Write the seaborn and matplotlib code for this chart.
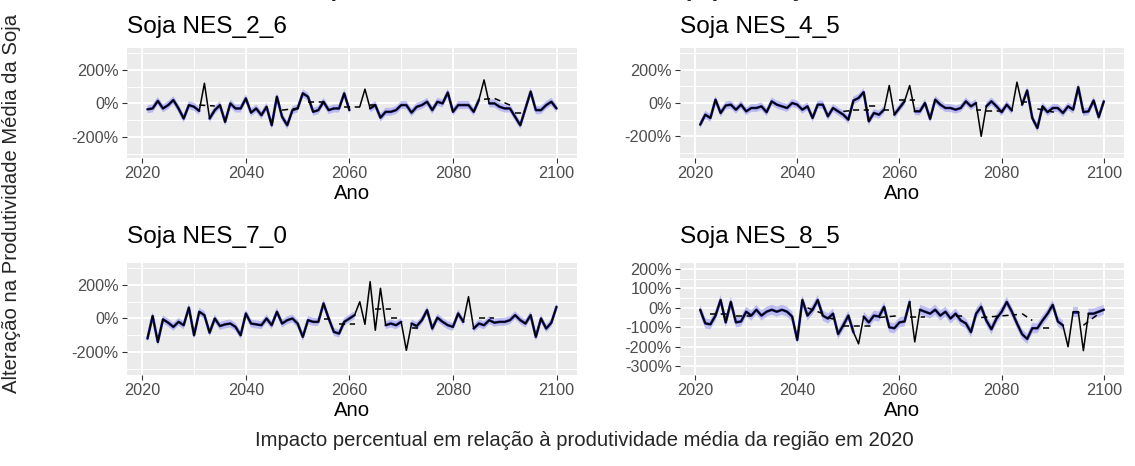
import numpy as np
import pandas as pd
import matplotlib
matplotlib.use("Agg")
import matplotlib.pyplot as plt
import seaborn as sns
from matplotlib.ticker import FuncFormatter, FixedLocator

nan = float("nan")
years = list(range(2021, 2101))

titles = ["Soja NES_2_6", "Soja NES_4_5", "Soja NES_7_0", "Soja NES_8_5"]

obs_2_6 = [-35, -30, 15, -30, -10, 20, -30, -90, -10, -20,
           -45, 120, -90, -40, -10, -110, 0, -30, -30, 30,
           -55, -30, -70, -20, -130, 40, -80, -130, -40, -30,
           60, 40, -50, -40, 10, -40, -30, -30, 60, -40,
           nan, -20, 85, -30, -10, -85, -50, -50, -40, -10,
           -10, -55, -20, -10, 10, -40, 10, 0, 65, -50,
           -10, -10, -10, -50, 20, 140, 0, 0, -20, -30,
           -30, -80, -130, -30, 70, -40, -40, -10, 10, -30]
obs_4_5 = [-130, -70, -90, 20, -60, -15, -10, -40, -10, -50,
           -30, -30, -20, -55, 10, -10, -20, -30, 0, -10,
           -40, -20, -90, -10, -10, -80, -30, -50, -70, -100,
           15, 30, 65, -110, -60, -70, -40, 105, -70, -30,
           10, 105, -50, -50, 0, -95, 20, -10, -30, -30,
           -40, -30, 10, -20, 0, -200, -20, 10, -20, -55,
           -10, -45, 125, -10, 75, -90, -150, -20, -55, -30,
           -30, -60, -20, -40, 95, -55, -50, 15, -85, 10]
obs_7_0 = [-120, 15, -140, -5, -25, -50, -20, -40, 65, -100,
           40, 20, -85, 0, -45, -35, -30, -50, -100, 30,
           -30, -35, -40, 0, -40, 40, -30, -10, 0, -30,
           -110, -10, -20, -20, 90, 0, -80, -90, -20, 0,
           20, 100, -35, 220, -70, 180, -40, -30, -40, -20,
           -190, -30, -45, -10, 50, -60, 5, -20, -40, -50,
           30, -20, 130, -60, -30, -40, -10, -25, -20, -20,
           -10, 20, -10, -30, 20, -110, 0, -60, -25, 70]
obs_8_5 = [-10, -80, -85, -40, 40, -75, 30, -75, -70, -20,
           -40, -10, -40, -20, -10, -20, -10, -20, -45, -165,
           40, -40, -10, 40, -40, -55, -30, -135, -90, -40,
           -125, -185, -45, -75, -40, -45, 5, -100, -105, -75,
           -70, 30, -175, -10, -20, -30, -10, -40, -20, -55,
           -30, -65, -80, -125, -30, 5, -65, -110, -55, -20,
           30, -20, -80, -135, -160, -105, -105, -65, -30, 15,
           -70, -90, -200, -20, -20, -220, -30, -30, -20, -10]

# years without the modelled (blue) estimate
gaps_2_6 = [2032, 2061, 2063, 2086]
gaps_4_5 = [2058, 2062, 2076, 2083]
gaps_7_0 = [2062, 2064, 2066, 2071, 2083]
gaps_8_5 = [2052, 2063, 2093, 2096]

# half width of the confidence band (percentage points)
band_2_6, band_4_5, band_7_0, band_8_5 = 24, 24, 24, 26

# dashed series (nan separates segments)
dash_x_2_6 = [2031, 2034, nan, 2047, 2051, nan, 2052, 2055, nan, 2059, 2062, nan,
              2064, 2066, nan, 2086, 2088, 2091, nan, 2092, 2094]
dash_y_2_6 = [-10, -15, nan, -40, -25, nan, 8, 8, nan, -20, -20, nan,
              -10, -10, nan, 25, 30, -10, nan, -55, -55]
dash_x_4_5 = [2049, 2051, nan, 2051, 2054, nan, 2054, 2056, nan, 2057, 2058, nan,
              2060, 2063, nan, 2075, 2076, nan, 2077, 2080, nan, 2084, 2085, nan, 2087, 2091]
dash_y_4_5 = [-50, -45, nan, -40, -40, nan, -20, -20, nan, -40, -40, nan,
              20, 20, nan, -40, -40, nan, -45, -45, nan, 5, 5, nan, -35, -60]
dash_x_7_0 = [2055, 2057, nan, 2058, 2061, nan, 2065, 2068, nan, 2068, 2070, nan,
              2072, 2074, nan, 2085, 2088]
dash_y_7_0 = [-5, -5, nan, -35, -35, nan, 55, 55, nan, 5, 5, nan,
              -55, -55, nan, 0, 0]
dash_x_8_5 = [2023, 2027, nan, 2028, 2031, nan, 2042, 2045, nan, 2046, 2048, nan,
              2049, 2055, nan, 2056, 2060, nan, 2062, 2065, nan, 2071, 2073, nan,
              2076, 2083, nan, 2084, 2086, nan, 2088, 2090, nan, 2096, 2099]
dash_y_8_5 = [-30, -30, nan, -40, -40, nan, 0, -30, nan, -50, -65, nan,
              -95, -95, nan, -50, -40, nan, -45, -45, nan, -40, -40, nan,
              -50, -35, nan, -30, -65, nan, -105, -105, nan, -90, -30]

obs_all = [obs_2_6, obs_4_5, obs_7_0, obs_8_5]
gaps_all = [gaps_2_6, gaps_4_5, gaps_7_0, gaps_8_5]
band_all = [band_2_6, band_4_5, band_7_0, band_8_5]
dash_all = [(dash_x_2_6, dash_y_2_6), (dash_x_4_5, dash_y_4_5),
            (dash_x_7_0, dash_y_7_0), (dash_x_8_5, dash_y_8_5)]

ylims = [(-325, 330), (-330, 330), (-337, 331), (-345, 230)]
ymajor = [[-200, 0, 200], [-200, 0, 200], [-200, 0, 200],
          [-300, -200, -100, 0, 100, 200]]
yminor = [[-300, -100, 100, 300], [-300, -100, 100, 300], [-300, -100, 100, 300],
          [-250, -150, -50, 50, 150]]

sns.set_theme(style="darkgrid")
plt.rcParams["font.family"] = ["Liberation Sans", "DejaVu Sans"]

W, H = 1135, 466
fig = plt.figure(figsize=(W / 100, H / 100), dpi=100)
fig.patch.set_facecolor("white")

panels = [(127, 48, 577, 158), (680, 48, 1124, 158),
          (127, 263, 577, 375), (680, 263, 1124, 375)]
title_base = [33, 33, 243, 243]


def segs(x, y):
    df = pd.DataFrame({"x": x, "y": y})
    df["seg"] = df["y"].isna().cumsum() + df["x"].isna().cumsum()
    return df.dropna()


for i, (l, t, r, b) in enumerate(panels):
    ax = fig.add_axes([l / W, 1 - b / H, (r - l) / W, (b - t) / H])
    ax.set_facecolor("#EBEBEB")
    for s in ax.spines.values():
        s.set_visible(False)

    obs = np.array(obs_all[i], dtype=float)
    yrs = np.array(years, dtype=float)
    blue = obs.copy()
    for g in gaps_all[i]:
        blue[years.index(g)] = np.nan
    w = band_all[i]

    ax.fill_between(yrs, blue - w, blue + w, color="#9C9CF0", alpha=0.6,
                    linewidth=0, zorder=2)
    dfb = segs(yrs, blue)
    sns.lineplot(data=dfb, x="x", y="y", units="seg", estimator=None, ax=ax,
                 color="#2A2A9A", linewidth=1.9, zorder=3)
    dx, dy = dash_all[i]
    dfd = segs(dx, dy)
    sns.lineplot(data=dfd, x="x", y="y", units="seg", estimator=None, ax=ax,
                 color="black", linewidth=1.1, linestyle=(0, (4, 3)), zorder=4)
    dfo = segs(yrs, obs)
    sns.lineplot(data=dfo, x="x", y="y", units="seg", estimator=None, ax=ax,
                 color="black", linewidth=1.1, zorder=5)

    ax.set_xlim(2017.05, 2103.95)
    ax.set_ylim(*ylims[i])
    ax.xaxis.set_major_locator(FixedLocator([2020, 2040, 2060, 2080, 2100]))
    ax.xaxis.set_minor_locator(FixedLocator([2030, 2050, 2070, 2090]))
    ax.yaxis.set_major_locator(FixedLocator(ymajor[i]))
    ax.yaxis.set_minor_locator(FixedLocator(yminor[i]))
    ax.yaxis.set_major_formatter(FuncFormatter(lambda v, p: f"{v:.0f}%"))
    ax.xaxis.set_major_formatter(FuncFormatter(lambda v, p: f"{v:.0f}"))
    ax.grid(which="major", color="white", linewidth=1.3)
    ax.grid(which="minor", color="white", linewidth=0.65)
    ax.set_axisbelow(True)
    ax.tick_params(which="major", length=3.7, width=0.8, color="#333333",
                   labelsize=11.7, labelcolor="#4D4D4D", pad=2.2,
                   bottom=True, left=True)
    ax.tick_params(which="minor", length=0, bottom=False, left=False)
    ax.set_ylabel("")
    ax.set_xlabel("Ano", fontsize=14.6, color="black", labelpad=2)

    fig.text(l / W, 1 - title_base[i] / H, titles[i], fontsize=17.6,
             ha="left", va="baseline", color="black")

fig.text(594 / W, 1 + 4 / H, "Impacto na Produtividade Média (%) da Soja - NES",
         fontsize=17.6, fontweight="bold", ha="center", va="baseline")
fig.text(12 / W, 1 - 203 / H, "Alteração na Produtividade Média da Soja",
         rotation=90, fontsize=14.6, ha="center", va="center")
fig.text(584 / W, 1 - 440 / H,
         "Impacto percentual em relação à produtividade média da região em 2020",
         fontsize=14.6, ha="center", va="center")

fig.savefig("out.png", dpi=100, facecolor="white")
